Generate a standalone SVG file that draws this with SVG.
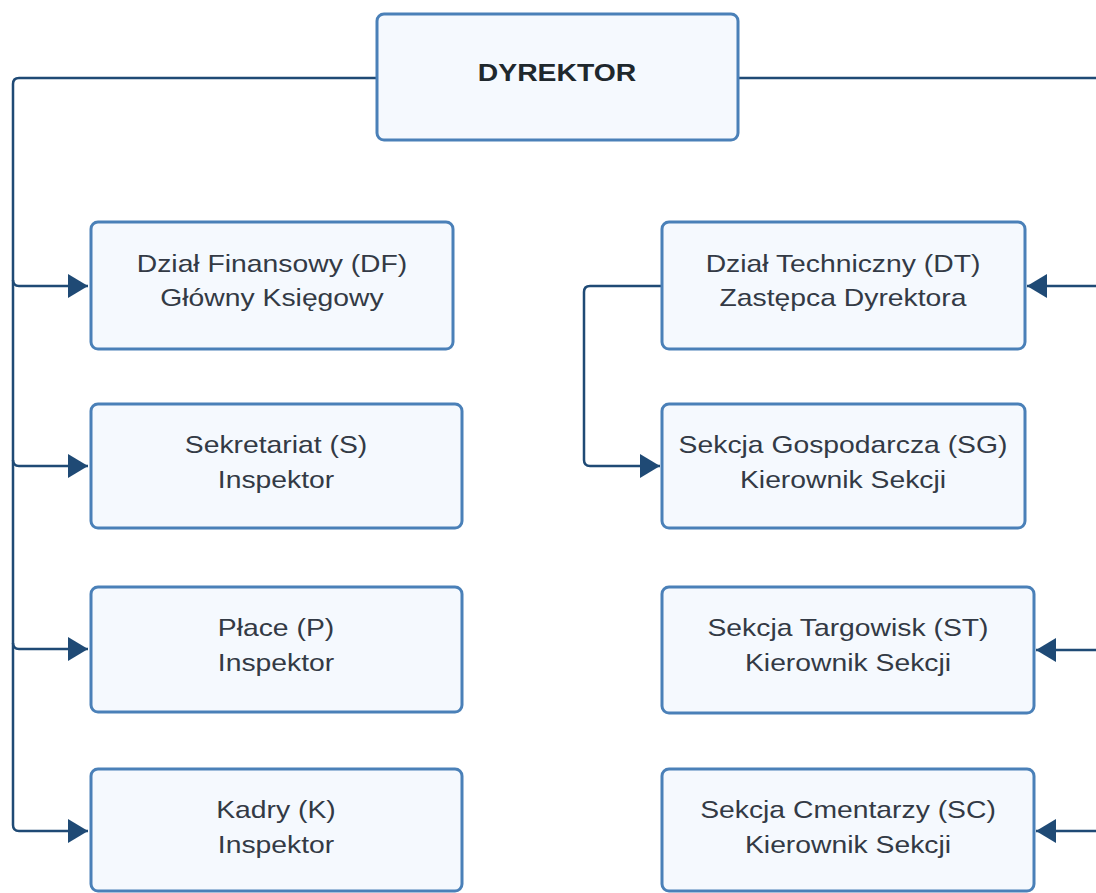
<svg xmlns="http://www.w3.org/2000/svg" width="1096" height="893" viewBox="0 0 1096 893">
<style>
.box{fill:#f5f9fe;stroke:#4a80b8;stroke-width:3}
.t{font-family:"Liberation Sans",Arial,sans-serif;font-size:24px;fill:#333a45;text-anchor:middle}
.tb{font-family:"Liberation Sans",Arial,sans-serif;font-size:24px;font-weight:bold;fill:#1f282d;text-anchor:middle}
.c{fill:none;stroke:#1f4a75;stroke-width:2.5;stroke-linejoin:round}
</style>
<defs>
<marker id="ah" markerUnits="userSpaceOnUse" markerWidth="22" markerHeight="24" refX="20" refY="12" orient="auto">
<path d="M0,0 L20,12 L0,24 Z" fill="#1f4a75"/>
</marker>
</defs>
<rect width="1096" height="893" fill="#ffffff"/>
<g id="connectors">
<path class="c" d="M377,78 H19 Q13,78 13,84 V280 Q13,286 19,286 H88" marker-end="url(#ah)"/>
<path class="c" d="M13,280 V460 Q13,466 19,466 H88" marker-end="url(#ah)"/>
<path class="c" d="M13,460 V643 Q13,649 19,649 H88" marker-end="url(#ah)"/>
<path class="c" d="M13,643 V825 Q13,831 19,831 H88" marker-end="url(#ah)"/>
<path class="c" d="M738,78 H1096"/>
<path class="c" d="M1096,286 H1027" marker-end="url(#ah)"/>
<path class="c" d="M1096,650 H1036" marker-end="url(#ah)"/>
<path class="c" d="M1096,831 H1036" marker-end="url(#ah)"/>
<path class="c" d="M662,286 H590 Q584,286 584,292 V460 Q584,466 590,466 H660" marker-end="url(#ah)"/>
</g>
<g id="dyrektor">
<rect class="box" x="377" y="14" width="361" height="126" rx="7"/>
<g transform="translate(557,0) scale(1.18,1)"><text class="tb" x="0" y="81">DYREKTOR</text></g>
</g>
<g id="df">
<rect class="box" x="91" y="222" width="362" height="127" rx="7"/>
<g transform="translate(272,0) scale(1.18,1)"><text class="t" x="0" y="272">Dział Finansowy (DF)</text><text class="t" x="0" y="306">Główny Księgowy</text></g>
</g>
<g id="s">
<rect class="box" x="91" y="404" width="371" height="124" rx="7"/>
<g transform="translate(276,0) scale(1.18,1)"><text class="t" x="0" y="453">Sekretariat (S)</text><text class="t" x="0" y="488">Inspektor</text></g>
</g>
<g id="p">
<rect class="box" x="91" y="587" width="371" height="125" rx="7"/>
<g transform="translate(276,0) scale(1.18,1)"><text class="t" x="0" y="636">Płace (P)</text><text class="t" x="0" y="671">Inspektor</text></g>
</g>
<g id="k">
<rect class="box" x="91" y="769" width="371" height="122" rx="7"/>
<g transform="translate(276,0) scale(1.18,1)"><text class="t" x="0" y="818">Kadry (K)</text><text class="t" x="0" y="853">Inspektor</text></g>
</g>
<g id="dt">
<rect class="box" x="662" y="222" width="363" height="127" rx="7"/>
<g transform="translate(843,0) scale(1.18,1)"><text class="t" x="0" y="272">Dział Techniczny (DT)</text><text class="t" x="0" y="306">Zastępca Dyrektora</text></g>
</g>
<g id="sg">
<rect class="box" x="662" y="404" width="363" height="124" rx="7"/>
<g transform="translate(843,0) scale(1.18,1)"><text class="t" x="0" y="453">Sekcja Gospodarcza (SG)</text><text class="t" x="0" y="488">Kierownik Sekcji</text></g>
</g>
<g id="st">
<rect class="box" x="662" y="587" width="372" height="126" rx="7"/>
<g transform="translate(848,0) scale(1.18,1)"><text class="t" x="0" y="636">Sekcja Targowisk (ST)</text><text class="t" x="0" y="671">Kierownik Sekcji</text></g>
</g>
<g id="sc">
<rect class="box" x="662" y="769" width="372" height="122" rx="7"/>
<g transform="translate(848,0) scale(1.18,1)"><text class="t" x="0" y="818">Sekcja Cmentarzy (SC)</text><text class="t" x="0" y="853">Kierownik Sekcji</text></g>
</g>
</svg>
